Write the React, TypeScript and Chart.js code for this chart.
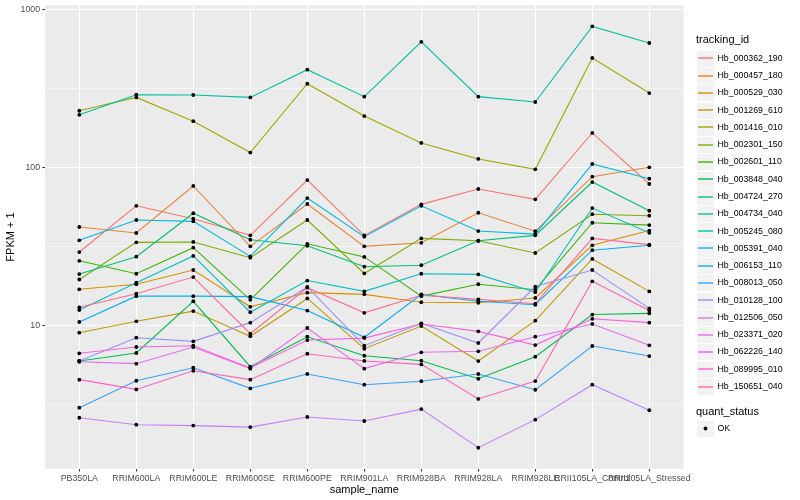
import React, { useEffect, useRef } from "react";
import { Chart, registerables } from "chart.js";

Chart.register(...registerables);

const sampleNames = [
  "PB350LA", "RRIM600LA", "RRIM600LE", "RRIM600SE", "RRIM600PE", "RRIM901LA",
  "RRIM928BA", "RRIM928LA", "RRIM928LE", "RRII105LA_Control", "RRII105LA_Stressed",
];

const trackingIds = [
  "Hb_000362_190", "Hb_000457_180", "Hb_000529_030", "Hb_001269_610", "Hb_001416_010",
  "Hb_002301_150", "Hb_002601_110", "Hb_003848_040", "Hb_004724_270", "Hb_004734_040",
  "Hb_005245_080", "Hb_005391_040", "Hb_006153_110", "Hb_008013_050", "Hb_010128_100",
  "Hb_012506_050", "Hb_023371_020", "Hb_062226_140", "Hb_089995_010", "Hb_150651_040",
];

const seriesColors = [
  "#F8766D", "#EA8331", "#D89000", "#C09B00", "#A3A500",
  "#7CAE00", "#39B600", "#00BB4E", "#00BF7D", "#00C1A3",
  "#00BFC4", "#00BAE0", "#00B0F6", "#35A2FF", "#9590FF",
  "#C77CFF", "#E76BF3", "#FA62DB", "#FF62BC", "#FF6C91",
];

// FPKM + 1 per sample (order of sampleNames)
const hb000362_190 = [29.1, 57.1, 47.3, 37.1, 83.1, 37.1, 58.3, 72.9, 62.7, 165, 78.4];
const hb000457_180 = [41.9, 38.4, 76.2, 31.6, 58.6, 31.6, 33.3, 51.6, 39.4, 87.3, 100];
const hb000529_030 = [16.9, 18.2, 22.4, 13.1, 16.1, 15.7, 14.0, 13.9, 14.9, 32.1, 39.8];
const hb001269_610 = [8.98, 10.6, 12.3, 8.52, 14.8, 7.11, 9.9, 5.94, 10.7, 26.3, 16.4];
const hb001416_010 = [228, 277, 196, 124, 338, 211, 142.6, 113, 97.1, 492, 295];
const hb002301_150 = [19.5, 33.5, 33.7, 26.8, 46.4, 21.3, 35.5, 34.3, 28.7, 50.5, 49.4];
const hb002601_110 = [25.6, 21.2, 31.0, 14.5, 32.8, 27.1, 15.3, 18.2, 16.8, 44.6, 43.1];
const hb003848_040 = [5.95, 6.68, 14.2, 5.47, 8.47, 6.42, 5.97, 4.59, 6.33, 11.7, 11.9];
const hb004724_270 = [21.1, 27.2, 51.2, 34.8, 31.9, 23.5, 24.0, 34.3, 37.1, 80.7, 53.1];
const hb004734_040 = [215, 288, 287, 277, 415, 280, 623, 280, 259, 780, 612];
const hb005245_080 = [12.5, 18.6, 27.5, 12.1, 19.2, 16.4, 21.2, 21.0, 16.2, 55.2, 38.5];
const hb005391_040 = [34.5, 46.4, 45.5, 27.3, 63.9, 36.4, 57.1, 39.5, 37.8, 105, 84.7];
const hb006153_110 = [10.5, 15.3, 15.3, 15.2, 12.4, 8.4, 15.7, 14.2, 13.5, 29.9, 32.1];
const hb008013_050 = [3.01, 4.46, 5.39, 3.99, 4.92, 4.21, 4.43, 4.92, 3.91, 7.4, 6.39];
const hb010128_100 = [5.95, 8.35, 7.92, 10.4, 17.5, 7.43, 10.3, 7.73, 17.6, 22.4, 12.8];
const hb012506_050 = [2.6, 2.35, 2.32, 2.27, 2.63, 2.48, 2.95, 1.68, 2.53, 4.21, 2.9];
const hb023371_020 = [5.88, 5.72, 7.29, 5.32, 9.62, 5.32, 6.75, 6.85, 8.47, 10.2, 7.47];
const hb062226_140 = [6.65, 7.29, 7.43, 5.37, 8.07, 8.3, 10.2, 9.16, 7.5, 11.0, 10.4];
const hb089995_010 = [4.53, 3.93, 5.16, 4.53, 6.61, 5.95, 5.66, 3.42, 4.44, 19.0, 12.4];
const hb150651_040 = [13.0, 15.85, 20.2, 8.85, 17.3, 12.0, 15.5, 14.6, 13.7, 35.5, 32.4];

const seriesValues = [
  hb000362_190, hb000457_180, hb000529_030, hb001269_610, hb001416_010,
  hb002301_150, hb002601_110, hb003848_040, hb004724_270, hb004734_040,
  hb005245_080, hb005391_040, hb006153_110, hb008013_050, hb010128_100,
  hb012506_050, hb023371_020, hb062226_140, hb089995_010, hb150651_040,
];

const majorBreaks = [10, 100, 1000];
const minorBreaks = [10 ** 0.5, 10 ** 1.5, 10 ** 2.5];
const yTickLabels = ["10", "100", "1000"];

const FONT = '"Liberation Sans", Arial, Helvetica, sans-serif';

const isMajor = (v: number) => majorBreaks.some((m) => Math.abs(m - v) / m < 1e-6);

const panelPlugin = {
  id: "ggPanel",
  beforeDraw(chart: any) {
    const { ctx, chartArea } = chart;
    ctx.save();
    ctx.fillStyle = "#FFFFFF";
    ctx.fillRect(0, 0, chart.width, chart.height);
    ctx.fillStyle = "#EBEBEB";
    ctx.fillRect(chartArea.left, chartArea.top, chartArea.right - chartArea.left, chartArea.bottom - chartArea.top);
    ctx.restore();
  },
};

const legendPlugin = {
  id: "ggLegend",
  afterDraw(chart: any) {
    const ctx = chart.ctx;
    const keyX = 697;
    const keyS = 17.28;
    ctx.save();
    ctx.textBaseline = "middle";
    ctx.textAlign = "left";
    ctx.fillStyle = "#000000";
    ctx.font = `11px ${FONT}`;
    ctx.fillText("tracking_id", 696, 39.5);
    trackingIds.forEach((id, i) => {
      const cy = 58.3 + i * keyS;
      const ly = Math.round(cy);
      ctx.fillStyle = "#F2F2F2";
      ctx.fillRect(keyX, Math.round(cy - keyS / 2) + 1, 17, 16);
      ctx.strokeStyle = seriesColors[i];
      ctx.lineWidth = 1.4;
      ctx.beginPath();
      ctx.moveTo(keyX + 1, ly);
      ctx.lineTo(keyX + 16, ly);
      ctx.stroke();
      ctx.fillStyle = "#000000";
      ctx.font = `8.8px ${FONT}`;
      ctx.fillText(id, 717.5, cy);
    });
    ctx.font = `11px ${FONT}`;
    ctx.fillText("quant_status", 696, 412);
    const cy = 428.5;
    ctx.fillStyle = "#F2F2F2";
    ctx.fillRect(keyX, Math.round(cy - keyS / 2) + 1, 17, 16);
    ctx.fillStyle = "#000000";
    ctx.beginPath();
    ctx.arc(keyX + 8.5, cy, 1.9, 0, Math.PI * 2);
    ctx.fill();
    ctx.font = `8.8px ${FONT}`;
    ctx.fillText("OK", 717.5, cy);
    ctx.restore();
  },
};

export default function App() {
  const ref = useRef<HTMLCanvasElement>(null);

  useEffect(() => {
    const canvas = ref.current;
    if (!canvas) return;
    const all = seriesValues.flat();
    const lo = Math.log10(Math.min(...all));
    const hi = Math.log10(Math.max(...all));
    const pad = (hi - lo) * 0.05;
    const yMin = 10 ** (lo - pad);
    const yMax = 10 ** (hi + pad);
    const n = sampleNames.length;

    const lineSets = seriesValues.map((vals, i) => ({
      label: trackingIds[i],
      data: vals.map((y, x) => ({ x, y })),
      showLine: true,
      borderColor: seriesColors[i],
      backgroundColor: seriesColors[i],
      borderWidth: 1.1,
      pointRadius: 0,
      pointHoverRadius: 0,
      fill: false,
      tension: 0,
      order: 100 - i,
    }));
    const pointSets = seriesValues.map((vals, i) => ({
      label: trackingIds[i] + " OK",
      data: vals.map((y, x) => ({ x, y })),
      showLine: false,
      pointRadius: 1.9,
      pointHoverRadius: 1.9,
      pointBackgroundColor: "#000000",
      pointBorderColor: "#000000",
      pointBorderWidth: 0,
      order: 50 - i,
    }));

    const chart = new Chart(canvas, {
      type: "scatter",
      data: { datasets: [...lineSets, ...pointSets] as any },
      plugins: [panelPlugin, legendPlugin],
      options: {
        animation: false,
        responsive: false,
        devicePixelRatio: 1,
        events: [],
        layout: { padding: { left: 0, top: 5.3, right: 116.5, bottom: 0 } },
        plugins: { legend: { display: false }, tooltip: { enabled: false } },
        scales: {
          x: {
            type: "linear",
            min: -0.6,
            max: n - 1 + 0.6,
            afterBuildTicks: (scale: any) => {
              scale.ticks = sampleNames.map((_, i) => ({ value: i }));
            },
            afterFit: (scale: any) => {
              scale.height = 31.2;
              scale.paddingLeft = 0;
              scale.paddingRight = 0;
            },
            border: { display: false },
            grid: {
              color: "#FFFFFF",
              lineWidth: 1.07,
              drawTicks: true,
              tickLength: 2.75,
              tickColor: "#333333",
              tickWidth: 1.07,
            },
            ticks: {
              autoSkip: false,
              maxRotation: 0,
              minRotation: 0,
              padding: 2.2,
              color: "#4D4D4D",
              font: { family: FONT, size: 8.8, lineHeight: 1.0 },
              callback: (v: any) => sampleNames[Math.round(Number(v))] ?? "",
            },
            title: {
              display: true,
              text: "sample_name",
              color: "#000000",
              font: { family: FONT, size: 11 },
              padding: { top: 0, bottom: 3.5 },
            },
          },
          y: {
            type: "logarithmic",
            min: yMin,
            max: yMax,
            afterBuildTicks: (scale: any) => {
              scale.ticks = [...minorBreaks, ...majorBreaks]
                .sort((a, b) => a - b)
                .map((v) => ({ value: v }));
            },
            afterFit: (scale: any) => {
              scale.width = 45.1;
              scale.paddingTop = 0;
              scale.paddingBottom = 0;
            },
            border: { display: false },
            grid: {
              color: "#FFFFFF",
              lineWidth: (c: any) => (isMajor(c.tick?.value) ? 1.07 : 0.55),
              drawTicks: true,
              tickLength: 2.75,
              tickColor: (c: any) => (isMajor(c.tick?.value) ? "#333333" : "rgba(0,0,0,0)"),
              tickWidth: 1.07,
            },
            ticks: {
              autoSkip: false,
              padding: 2.2,
              color: "#4D4D4D",
              font: { family: FONT, size: 8.8 },
              callback: (v: any) => {
                const idx = majorBreaks.findIndex((m) => Math.abs(m - Number(v)) / m < 1e-6);
                return idx >= 0 ? yTickLabels[idx] : "";
              },
            },
            title: {
              display: true,
              text: "FPKM + 1",
              color: "#000000",
              font: { family: FONT, size: 11 },
              padding: { top: 4.4, bottom: 0 },
            },
          },
        },
      } as any,
    });
    return () => chart.destroy();
  }, []);

  return (
    <div style={{ position: "absolute", left: 0, top: 0, width: 800, height: 500, background: "#FFFFFF" }}>
      <canvas ref={ref} width={800} height={500} style={{ width: 800, height: 500, display: "block" }} />
    </div>
  );
}
